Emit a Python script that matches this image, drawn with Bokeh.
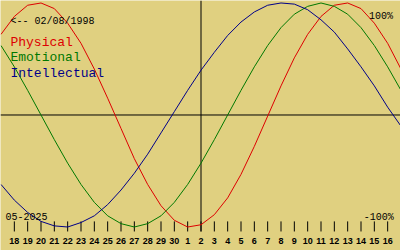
from bokeh.plotting import figure
from bokeh.models import Range1d, Label
from bokeh.core.properties import value
from bokeh.embed import file_html
from bokeh.resources import INLINE

# ---- data ----
days = list(range(-15, 16))  # day offset from the centre day (2 June)
physical = [72, 88, 98, 100, 95, 82, 64, 41, 15, -12, -39, -62, -81, -94, -100, -98,
            -89, -74, -53, -28, -1, 26, 51, 72, 88, 98, 100, 95, 82, 64, 41]
emotional = [62, 43, 22, 0, -22, -43, -62, -78, -90, -97, -100, -97, -90, -78, -62, -43,
             -22, 0, 22, 43, 62, 78, 90, 97, 100, 97, 90, 78, 62, 43, 22]
intellectual = [-62, -76, -87, -95, -99, -100, -96, -90, -80, -67, -52, -35, -16, 3, 22, 40,
                56, 71, 83, 92, 98, 100, 99, 94, 85, 74, 59, 43, 26, 7, -10]

tick_days = list(range(-14, 15))
tick_labels = ["18", "19", "20", "21", "22", "23", "24", "25", "26", "27", "28", "29", "30",
               "1", "2", "3", "4", "5", "6", "7", "8", "9", "10", "11", "12", "13", "14", "15", "16"]

series_names = ["Physical", "Emotional", "Intellectual"]
series_colors = ["#dd0000", "#007800", "#000088"]
birth_text = "<-- 02/08/1998"
month_text = "05-2025"
top_text = "100%"
bottom_text = "-100%"

BG = "#e0d080"

p = figure(width=400, height=250,
           x_range=Range1d(-15.0375, 14.9625), y_range=Range1d(-120.98, 102.23),
           output_backend="svg", toolbar_location=None, min_border=0,
           x_axis_location=None, y_axis_location=None,
           background_fill_color=BG, border_fill_color=BG, outline_line_color=None)
p.grid.visible = False

# zero line and centre-day line
p.segment(x0=[-15.0375], y0=[0], x1=[14.9625], y1=[0], line_color="black", line_width=1)
p.segment(x0=[0], y0=[102.23], x1=[0], y1=[-104], line_color="black", line_width=1)

# day ticks
p.segment(x0=tick_days, y0=[-95] * len(tick_days), x1=tick_days, y1=[-104] * len(tick_days),
          line_color="black", line_width=1)
p.text(x=tick_days, y=[-112.5] * len(tick_days), text=tick_labels,
       text_font=value("Liberation Sans"), text_font_style="bold", text_font_size="9px",
       text_align="center", text_baseline="alphabetic", text_color="black")

for vals, col in zip([physical, emotional, intellectual], series_colors):
    p.line(days, vals, line_color=col, line_width=1)

MONO = "Liberation Mono"

def lab(x, y, txt, color="black", size="10px", align="left"):
    p.add_layout(Label(x=x, y=y, text=txt, text_color=color, text_font=MONO,
                       text_font_size=size, text_align=align, text_baseline="alphabetic"))

# positions in data units
lab(-14.29, 83.5, birth_text)
lab(-14.29, 64.7, series_names[0], series_colors[0], "13px")
lab(-14.29, 51.3, series_names[1], series_colors[1], "13px")
lab(-14.29, 37.1, series_names[2], series_colors[2], "13px")
lab(14.4, 88.0, top_text, align="right")
lab(14.46, -91.5, bottom_text, align="right")
lab(-14.67, -90.6, month_text)

open("out.html", "w").write(file_html(p, INLINE))
